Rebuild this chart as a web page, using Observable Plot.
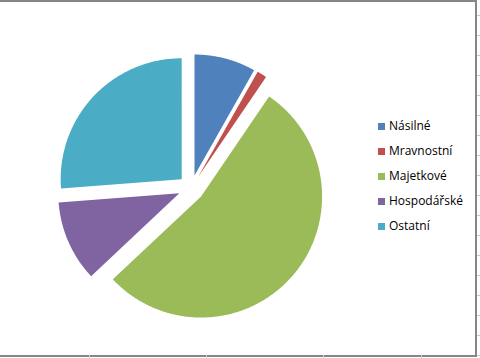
<!DOCTYPE html>
<html>
<head>
<meta charset="utf-8">
<script src="https://cdn.jsdelivr.net/npm/d3@7"></script>
<script src="https://cdn.jsdelivr.net/npm/@observablehq/plot@0.6"></script>
<style>
  html, body { margin: 0; padding: 0; background: #fff; }
  #wrap { position: relative; width: 480px; height: 358px; overflow: hidden; background: #fff; }
  #frame { position: absolute; left: 0; top: 0; width: 475px; height: 353px; border: 2px solid #868686; border-left: none; box-sizing: content-box; }
  #chart { position: absolute; left: 0; top: 0; }
  #legend { position: absolute; left: 378px; top: 0; font-family: "Open Sans", sans-serif; font-size: 12px; color: #000; }
  .row { position: absolute; left: 0; white-space: nowrap; height: 14px; line-height: 14px; }
  .sw { position: absolute; left: 0; top: 3px; width: 7px; height: 7px; }
  .lb { position: absolute; left: 11px; top: -1px; }
  .gr { position: absolute; background: #c8c8c8; }
</style>
</head>
<body>
<div id="wrap">
  <div id="frame"></div>
  <div id="chart"></div>
  <div id="legend"></div>
</div>
<script>
// Data
const categories = ["Násilné", "Mravnostní", "Majetkové", "Hospodářské", "Ostatní"];
const values = [8.2, 1.3, 53.5, 10.8, 26.2];
const colors = ["#4F81BD", "#C0504D", "#9BBB59", "#8064A2", "#4BACC6"];

// Layout
const W = 480, H = 358;
const cx = 190.7, cy = 187.6, R = 121;
const explode = 13 / R;

const pie = d3.pie().sort(null).startAngle(0).endAngle(2 * Math.PI)(values);
const pts = [];
pie.forEach((s, i) => {
  const mid = (s.startAngle + s.endAngle) / 2;
  const ox = explode * Math.sin(mid), oy = explode * Math.cos(mid);
  const name = categories[i];
  pts.push({name, x: ox, y: oy});
  const n = Math.max(2, Math.ceil((s.endAngle - s.startAngle) / (Math.PI / 360)));
  for (let k = 0; k <= n; k++) {
    const a = s.startAngle + (s.endAngle - s.startAngle) * k / n;
    pts.push({name, x: ox + Math.sin(a), y: oy + Math.cos(a)});
  }
});

const plot = Plot.plot({
  width: W, height: H,
  margin: 0,
  x: {domain: [-1, 1], range: [cx - R, cx + R], axis: null},
  y: {domain: [-1, 1], range: [cy + R, cy - R], axis: null},
  color: {domain: categories, range: colors},
  style: {background: "transparent", overflow: "visible"},
  marks: [
    Plot.line(pts, {x: "x", y: "y", z: "name", fill: "name", stroke: "none", curve: "linear-closed"})
  ]
});
document.getElementById("chart").appendChild(plot);

// Legend
const color = plot.scale("color");
const leg = document.getElementById("legend");
categories.forEach((c, i) => {
  const row = document.createElement("div");
  row.className = "row";
  row.style.top = (120 + 25 * i) + "px";
  const sw = document.createElement("div");
  sw.className = "sw";
  sw.style.background = colors[color.domain.indexOf(c)];
  const lb = document.createElement("div");
  lb.className = "lb";
  lb.textContent = c;
  row.appendChild(sw); row.appendChild(lb);
  leg.appendChild(row);
});

// Spreadsheet gridline stubs outside the chart frame
const wrap = document.getElementById("wrap");
for (let y = 15; y < 358; y += 20) {
  const g = document.createElement("div");
  g.className = "gr";
  g.style.left = "477px"; g.style.top = y + "px"; g.style.width = "3px"; g.style.height = "1px";
  wrap.appendChild(g);
}
[89, 206, 323, 421].forEach(x => {
  const g = document.createElement("div");
  g.className = "gr";
  g.style.left = x + "px"; g.style.top = "355px"; g.style.width = "1px"; g.style.height = "3px";
  wrap.appendChild(g);
});
</script>
</body>
</html>
